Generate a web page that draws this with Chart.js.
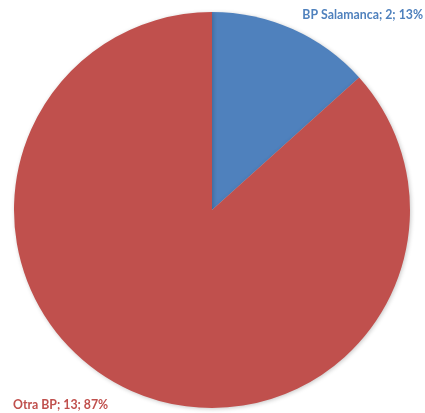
<!DOCTYPE html>
<html>
<head>
<meta charset="utf-8">
<script src="https://cdn.jsdelivr.net/npm/chart.js@4/dist/chart.umd.min.js"></script>
<style>
  html, body { margin: 0; padding: 0; background: #ffffff; }
  #wrap { width: 425px; height: 413px; }
</style>
</head>
<body>
<div id="wrap"><canvas id="grafico"></canvas></div>
<script>
// Datos del gráfico
const categorias = ['BP Salamanca', 'Otra BP'];
const valores = [2, 13];
const colores = ['#4F81BD', '#C0504D'];
const coloresTexto = ['#4F81BD', '#C0504D'];

// Etiquetas "nombre; valor; porcentaje" como en Excel
const etiquetasPlugin = {
  id: 'etiquetas',
  afterDatasetsDraw(chart) {
    const ctx = chart.ctx;
    const total = valores.reduce((a, b) => a + b, 0);
    const area = chart.chartArea;
    ctx.save();
    ctx.font = 'bold 12.3px Lato, "Open Sans", sans-serif';
    ctx.textBaseline = 'middle';
    valores.forEach((v, i) => {
      const pct = Math.round(v / total * 100);
      const texto = categorias[i] + '; ' + v + '; ' + pct + '%';
      ctx.fillStyle = coloresTexto[i];
      if (i === 0) {
        ctx.textAlign = 'right';
        ctx.fillText(texto, area.right + 13, area.top + 3);
      } else {
        ctx.textAlign = 'left';
        ctx.fillText(texto, area.left - 1, area.bottom - 3);
      }
    });
    ctx.restore();
  }
};

// Sombra suave alrededor del círculo
const sombraPlugin = {
  id: 'sombra',
  beforeDatasetsDraw(chart) {
    const ctx = chart.ctx;
    ctx.save();
    ctx.shadowColor = 'rgba(0, 0, 0, 0.22)';
    ctx.shadowBlur = 4;
    ctx.shadowOffsetX = 1;
    ctx.shadowOffsetY = 1;
  },
  afterDatasetsDraw(chart) {
    chart.ctx.restore();
  }
};

new Chart(document.getElementById('grafico'), {
  type: 'pie',
  data: {
    labels: categorias,
    datasets: [{
      data: valores,
      backgroundColor: colores,
      borderWidth: 0
    }]
  },
  options: {
    responsive: true,
    maintainAspectRatio: false,
    animation: false,
    layout: { padding: { top: 12, bottom: 5, left: 14, right: 15 } },
    plugins: {
      legend: { display: false },
      tooltip: { enabled: false }
    }
  },
  plugins: [sombraPlugin, etiquetasPlugin]
});
</script>
</body>
</html>
